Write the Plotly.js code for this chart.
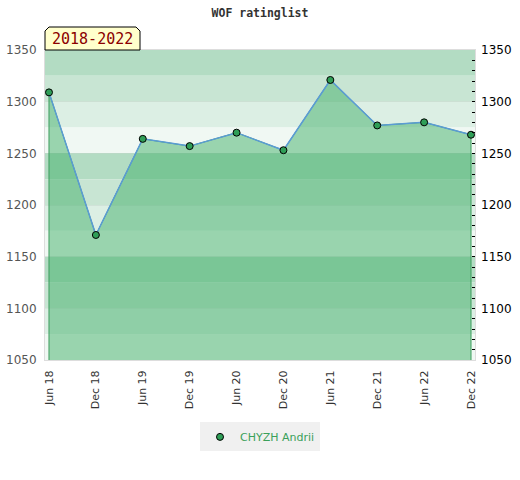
<!DOCTYPE html>
<html>
<head>
<meta charset="utf-8">
<script src="https://cdn.plot.ly/plotly-3.0.1.min.js"></script>
<style>html,body{margin:0;padding:0;background:#fff;}#chart{width:520px;height:480px;}</style>
</head>
<body>
<div id="chart"></div>
<script>
// ---- data ----
var periods = ["Jun 18","Dec 18","Jun 19","Dec 19","Jun 20","Dec 20","Jun 21","Dec 21","Jun 22","Dec 22"];
var ratings = [1309, 1171, 1264, 1257, 1270, 1253, 1321, 1277, 1280, 1268];
var playerName = "CHYZH Andrii";
var chartTitle = "WOF ratinglist";
var periodLabel = "2018-2022";
var yMin = 1050, yMax = 1350;

// ---- styling ----
var bandColors = ["#b3dcc3", "#c8e5d3", "#dcefe4", "#f0f8f3"];
var bandStep = 25;

var shapes = [];
for (var v = yMax, i = 0; v > yMin; v -= bandStep, i++) {
  shapes.push({type:'rect', layer:'below', xref:'paper', yref:'y', x0:0, x1:1, y0:v - bandStep, y1:v,
    fillcolor: bandColors[i % 4], line:{width:0}});
}
// label box with chamfered top corners
shapes.push({type:'path', layer:'above', xref:'paper', yref:'paper', xsizemode:'pixel', ysizemode:'pixel',
  xanchor:0, yanchor:1,
  path:'M0,0 L0,19 L4,23 L91,23 L95,19 L95,0 Z',
  fillcolor:'#ffffcc', line:{color:'#000', width:1}});

var fillX = [periods[0]].concat(periods, [periods[periods.length-1]]);
var fillY = [yMin].concat(ratings, [yMin]);

var traces = [
  {x: fillX, y: fillY, type:'scatter', mode:'lines', fill:'toself',
   fillcolor:'rgba(65,175,105,0.5)', line:{color:'#3c9d5d', width:1},
   showlegend:false, hoverinfo:'skip'},
  {x: periods, y: ratings, type:'scatter', mode:'lines', showlegend:false,
   line:{color:'#5b9bd5', width:1.5}},
  {x: periods, y: ratings, type:'scatter', mode:'markers', name: playerName,
   marker:{color:'#2f9e57', size:7, line:{color:'#000', width:1}}},
  {x: periods, y: ratings, type:'scatter', mode:'none', yaxis:'y2', showlegend:false, hoverinfo:'skip'}
];

var layout = {
  width:520, height:480,
  margin:{l:45, r:45, t:50, b:120},
  paper_bgcolor:'#fff', plot_bgcolor:'#fff',
  title:{text: chartTitle, x:0.5, xanchor:'center', y:0.972, yanchor:'middle',
    font:{family:'DejaVu Sans Mono', size:11.5, color:'#333', weight:'bold'}},
  font:{family:'DejaVu Sans', size:12},
  showlegend:true,
  legend:{orientation:'h', x:0.5, xanchor:'center', y:-0.248, yanchor:'middle', itemwidth:30,
    bgcolor:'#f0f0f0', font:{family:'DejaVu Sans', size:11, color:'#3aa05a'}},
  xaxis:{type:'category', range:[-0.085, periods.length - 1 + 0.085], tickangle:-90,
    tickfont:{family:'DejaVu Sans', size:11, color:'#333'}, showgrid:false, zeroline:false,
    showline:true, linecolor:'#dddddd', linewidth:1, mirror:true, ticks:'', ticklabelstandoff:5},
  yaxis:{range:[yMin, yMax], dtick:50, tickfont:{family:'DejaVu Sans', size:12, color:'#555'},
    showgrid:true, gridcolor:'rgba(0,0,0,0.05)', zeroline:false, ticks:'', ticklabelstandoff:5,
    showline:true, linecolor:'#dddddd', linewidth:1, mirror:true},
  yaxis2:{range:[yMin, yMax], dtick:50, overlaying:'y', side:'right', showgrid:false, zeroline:false,
    tickfont:{family:'DejaVu Sans', size:12, color:'#000'}, ticklabelstandoff:5,
    ticks:'inside', ticklen:3, tickcolor:'#000',
    minor:{dtick:10, ticks:'inside', ticklen:3, tickcolor:'#000'}},
  shapes: shapes,
  annotations:[{text: periodLabel, xref:'paper', yref:'paper', x:0, y:1, xanchor:'center', yanchor:'middle',
    xshift:47.5, yshift:11.5, showarrow:false, font:{family:'DejaVu Sans Mono', size:15, color:'#8b0000'}}]
};

Plotly.newPlot('chart', traces, layout, {displayModeBar:false, staticPlot:true});
</script>
</body>
</html>
